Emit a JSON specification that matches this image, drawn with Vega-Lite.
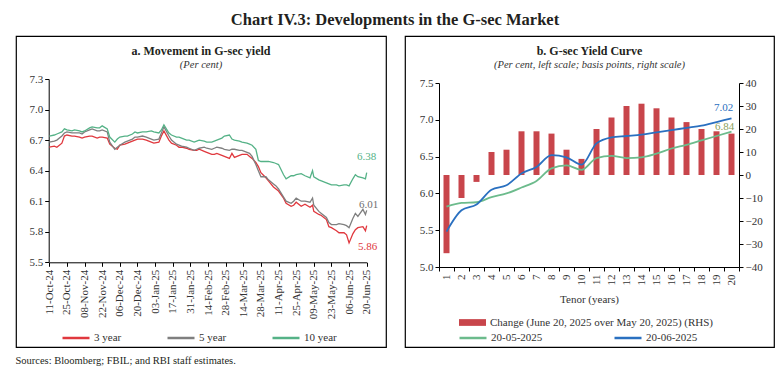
{
  "$schema": "https://vega.github.io/schema/vega-lite/v6.json",
  "background": "white",
  "padding": {"left": 15, "top": 11, "right": 5, "bottom": 2},
  "title": {"text": "Chart IV.3: Developments in the G-sec Market", "font": "Liberation Serif", "fontSize": 16.5, "fontWeight": "bold", "color": "#231f20", "anchor": "middle", "offset": 7},
  "vconcat": [
    {
      "title": {"text": "Sources: Bloomberg; FBIL; and RBI staff estimates.", "orient": "bottom", "anchor": "start", "font": "Liberation Serif", "fontSize": 10.5, "fontWeight": "normal", "color": "#231f20", "offset": 8},
      "spacing": 11,
      "hconcat": [
        {
          "width": 370,
          "height": 311,
          "title": {"text": "a. Movement in G-sec yield", "subtitle": "(Per cent)", "font": "Liberation Serif", "fontSize": 12, "fontWeight": "bold", "color": "#231f20", "subtitleFont": "Liberation Serif", "subtitleFontStyle": "italic", "subtitleFontSize": 10.5, "subtitleColor": "#333333", "subtitlePadding": 2, "anchor": "middle", "offset": -35},
          "data": {
            "values": [
              {"date": "2024-10-11", "3 year": 6.63, "5 year": 6.68, "10 year": 6.74},
              {"date": "2024-10-15", "3 year": 6.64, "5 year": 6.69, "10 year": 6.75},
              {"date": "2024-10-17", "3 year": 6.63, "5 year": 6.70, "10 year": 6.76},
              {"date": "2024-10-21", "3 year": 6.67, "5 year": 6.74, "10 year": 6.78},
              {"date": "2024-10-23", "3 year": 6.74, "5 year": 6.77, "10 year": 6.81},
              {"date": "2024-10-25", "3 year": 6.75, "5 year": 6.78, "10 year": 6.80},
              {"date": "2024-10-29", "3 year": 6.74, "5 year": 6.77, "10 year": 6.79},
              {"date": "2024-10-31", "3 year": 6.74, "5 year": 6.77, "10 year": 6.80},
              {"date": "2024-11-04", "3 year": 6.73, "5 year": 6.77, "10 year": 6.79},
              {"date": "2024-11-06", "3 year": 6.72, "5 year": 6.76, "10 year": 6.78},
              {"date": "2024-11-08", "3 year": 6.73, "5 year": 6.78, "10 year": 6.79},
              {"date": "2024-11-12", "3 year": 6.74, "5 year": 6.80, "10 year": 6.82},
              {"date": "2024-11-14", "3 year": 6.74, "5 year": 6.81, "10 year": 6.83},
              {"date": "2024-11-18", "3 year": 6.72, "5 year": 6.79, "10 year": 6.82},
              {"date": "2024-11-20", "3 year": 6.73, "5 year": 6.79, "10 year": 6.82},
              {"date": "2024-11-22", "3 year": 6.73, "5 year": 6.80, "10 year": 6.84},
              {"date": "2024-11-26", "3 year": 6.72, "5 year": 6.78, "10 year": 6.81},
              {"date": "2024-11-28", "3 year": 6.66, "5 year": 6.68, "10 year": 6.73},
              {"date": "2024-12-02", "3 year": 6.62, "5 year": 6.61, "10 year": 6.68},
              {"date": "2024-12-04", "3 year": 6.61, "5 year": 6.63, "10 year": 6.71},
              {"date": "2024-12-06", "3 year": 6.65, "5 year": 6.65, "10 year": 6.73},
              {"date": "2024-12-10", "3 year": 6.66, "5 year": 6.68, "10 year": 6.74},
              {"date": "2024-12-12", "3 year": 6.67, "5 year": 6.69, "10 year": 6.74},
              {"date": "2024-12-16", "3 year": 6.69, "5 year": 6.71, "10 year": 6.76},
              {"date": "2024-12-18", "3 year": 6.70, "5 year": 6.73, "10 year": 6.78},
              {"date": "2024-12-20", "3 year": 6.71, "5 year": 6.73, "10 year": 6.77},
              {"date": "2024-12-24", "3 year": 6.71, "5 year": 6.74, "10 year": 6.78},
              {"date": "2024-12-27", "3 year": 6.70, "5 year": 6.73, "10 year": 6.78},
              {"date": "2024-12-31", "3 year": 6.68, "5 year": 6.71, "10 year": 6.79},
              {"date": "2025-01-02", "3 year": 6.67, "5 year": 6.70, "10 year": 6.78},
              {"date": "2025-01-06", "3 year": 6.68, "5 year": 6.71, "10 year": 6.77},
              {"date": "2025-01-08", "3 year": 6.74, "5 year": 6.77, "10 year": 6.80},
              {"date": "2025-01-10", "3 year": 6.79, "5 year": 6.83, "10 year": 6.85},
              {"date": "2025-01-14", "3 year": 6.70, "5 year": 6.74, "10 year": 6.77},
              {"date": "2025-01-16", "3 year": 6.67, "5 year": 6.70, "10 year": 6.75},
              {"date": "2025-01-20", "3 year": 6.65, "5 year": 6.66, "10 year": 6.73},
              {"date": "2025-01-22", "3 year": 6.63, "5 year": 6.65, "10 year": 6.73},
              {"date": "2025-01-24", "3 year": 6.63, "5 year": 6.64, "10 year": 6.72},
              {"date": "2025-01-28", "3 year": 6.62, "5 year": 6.63, "10 year": 6.70},
              {"date": "2025-01-30", "3 year": 6.61, "5 year": 6.62, "10 year": 6.70},
              {"date": "2025-02-03", "3 year": 6.60, "5 year": 6.60, "10 year": 6.68},
              {"date": "2025-02-05", "3 year": 6.60, "5 year": 6.61, "10 year": 6.69},
              {"date": "2025-02-07", "3 year": 6.61, "5 year": 6.62, "10 year": 6.70},
              {"date": "2025-02-11", "3 year": 6.59, "5 year": 6.63, "10 year": 6.69},
              {"date": "2025-02-13", "3 year": 6.58, "5 year": 6.62, "10 year": 6.68},
              {"date": "2025-02-17", "3 year": 6.56, "5 year": 6.61, "10 year": 6.68},
              {"date": "2025-02-19", "3 year": 6.56, "5 year": 6.62, "10 year": 6.69},
              {"date": "2025-02-21", "3 year": 6.57, "5 year": 6.63, "10 year": 6.70},
              {"date": "2025-02-25", "3 year": 6.55, "5 year": 6.62, "10 year": 6.72},
              {"date": "2025-02-27", "3 year": 6.54, "5 year": 6.61, "10 year": 6.74},
              {"date": "2025-03-03", "3 year": 6.52, "5 year": 6.60, "10 year": 6.75},
              {"date": "2025-03-05", "3 year": 6.57, "5 year": 6.61, "10 year": 6.71},
              {"date": "2025-03-07", "3 year": 6.53, "5 year": 6.61, "10 year": 6.70},
              {"date": "2025-03-11", "3 year": 6.55, "5 year": 6.60, "10 year": 6.69},
              {"date": "2025-03-13", "3 year": 6.56, "5 year": 6.60, "10 year": 6.68},
              {"date": "2025-03-17", "3 year": 6.56, "5 year": 6.58, "10 year": 6.67},
              {"date": "2025-03-19", "3 year": 6.54, "5 year": 6.57, "10 year": 6.66},
              {"date": "2025-03-21", "3 year": 6.52, "5 year": 6.54, "10 year": 6.65},
              {"date": "2025-03-24", "3 year": 6.48, "5 year": 6.46, "10 year": 6.61},
              {"date": "2025-03-26", "3 year": 6.44, "5 year": 6.40, "10 year": 6.50},
              {"date": "2025-03-28", "3 year": 6.38, "5 year": 6.34, "10 year": 6.49},
              {"date": "2025-04-01", "3 year": 6.33, "5 year": 6.34, "10 year": 6.49},
              {"date": "2025-04-03", "3 year": 6.30, "5 year": 6.31, "10 year": 6.49},
              {"date": "2025-04-07", "3 year": 6.24, "5 year": 6.27, "10 year": 6.48},
              {"date": "2025-04-09", "3 year": 6.22, "5 year": 6.25, "10 year": 6.47},
              {"date": "2025-04-11", "3 year": 6.20, "5 year": 6.22, "10 year": 6.46},
              {"date": "2025-04-15", "3 year": 6.13, "5 year": 6.14, "10 year": 6.36},
              {"date": "2025-04-17", "3 year": 6.08, "5 year": 6.10, "10 year": 6.32},
              {"date": "2025-04-21", "3 year": 6.05, "5 year": 6.08, "10 year": 6.35},
              {"date": "2025-04-23", "3 year": 6.06, "5 year": 6.10, "10 year": 6.35},
              {"date": "2025-04-25", "3 year": 6.09, "5 year": 6.13, "10 year": 6.36},
              {"date": "2025-04-29", "3 year": 6.05, "5 year": 6.10, "10 year": 6.37},
              {"date": "2025-05-02", "3 year": 6.07, "5 year": 6.10, "10 year": 6.35},
              {"date": "2025-05-06", "3 year": 6.04, "5 year": 6.09, "10 year": 6.33},
              {"date": "2025-05-08", "3 year": 6.06, "5 year": 6.13, "10 year": 6.40},
              {"date": "2025-05-09", "3 year": 6.00, "5 year": 6.06, "10 year": 6.34},
              {"date": "2025-05-13", "3 year": 5.97, "5 year": 6.00, "10 year": 6.31},
              {"date": "2025-05-15", "3 year": 5.96, "5 year": 5.98, "10 year": 6.30},
              {"date": "2025-05-19", "3 year": 5.92, "5 year": 5.94, "10 year": 6.28},
              {"date": "2025-05-21", "3 year": 5.85, "5 year": 5.89, "10 year": 6.27},
              {"date": "2025-05-23", "3 year": 5.84, "5 year": 5.87, "10 year": 6.26},
              {"date": "2025-05-27", "3 year": 5.81, "5 year": 5.87, "10 year": 6.26},
              {"date": "2025-05-29", "3 year": 5.79, "5 year": 5.88, "10 year": 6.25},
              {"date": "2025-06-02", "3 year": 5.79, "5 year": 5.87, "10 year": 6.26},
              {"date": "2025-06-04", "3 year": 5.77, "5 year": 5.86, "10 year": 6.26},
              {"date": "2025-06-06", "3 year": 5.69, "5 year": 5.84, "10 year": 6.25},
              {"date": "2025-06-09", "3 year": 5.78, "5 year": 5.93, "10 year": 6.32},
              {"date": "2025-06-11", "3 year": 5.82, "5 year": 5.98, "10 year": 6.36},
              {"date": "2025-06-13", "3 year": 5.84, "5 year": 5.95, "10 year": 6.34},
              {"date": "2025-06-17", "3 year": 5.85, "5 year": 6.02, "10 year": 6.33},
              {"date": "2025-06-19", "3 year": 5.81, "5 year": 5.97, "10 year": 6.32},
              {"date": "2025-06-20", "3 year": 5.86, "5 year": 6.01, "10 year": 6.38}
            ],
            "format": {"parse": {"date": "utc:'%Y-%m-%d'"}}
          },
          "transform": [{"fold": ["3 year", "5 year", "10 year"], "as": ["series", "yield"]}],
          "encoding": {
            "x": {
              "field": "date", "type": "temporal",
              "scale": {"type": "utc", "domain": [{"year": 2024, "month": 10, "date": 11, "utc": true}, {"year": 2025, "month": 6, "date": 20, "utc": true}], "range": [33.3, 350.7]},
              "axis": {
                "orient": "bottom", "offset": -84.7, "title": null, "format": "%d-%b-%y", "labelAngle": -90, "labelPadding": 3,
                "values": [
                  {"year": 2024, "month": 10, "date": 11, "utc": true},
                  {"year": 2024, "month": 10, "date": 25, "utc": true},
                  {"year": 2024, "month": 11, "date": 8, "utc": true},
                  {"year": 2024, "month": 11, "date": 22, "utc": true},
                  {"year": 2024, "month": 12, "date": 6, "utc": true},
                  {"year": 2024, "month": 12, "date": 20, "utc": true},
                  {"year": 2025, "month": 1, "date": 3, "utc": true},
                  {"year": 2025, "month": 1, "date": 17, "utc": true},
                  {"year": 2025, "month": 1, "date": 31, "utc": true},
                  {"year": 2025, "month": 2, "date": 14, "utc": true},
                  {"year": 2025, "month": 2, "date": 28, "utc": true},
                  {"year": 2025, "month": 3, "date": 14, "utc": true},
                  {"year": 2025, "month": 3, "date": 28, "utc": true},
                  {"year": 2025, "month": 4, "date": 11, "utc": true},
                  {"year": 2025, "month": 4, "date": 25, "utc": true},
                  {"year": 2025, "month": 5, "date": 9, "utc": true},
                  {"year": 2025, "month": 5, "date": 23, "utc": true},
                  {"year": 2025, "month": 6, "date": 6, "utc": true},
                  {"year": 2025, "month": 6, "date": 20, "utc": true}
                ]
              }
            },
            "y": {
              "field": "yield", "type": "quantitative",
              "scale": {"domain": [5.5, 7.3], "range": [226.3, 43], "zero": false},
              "axis": {"orient": "left", "offset": -32.7, "title": null, "format": ".1f", "values": [5.5, 5.8, 6.1, 6.4, 6.7, 7.0, 7.3]}
            }
          },
          "layer": [
            {
              "mark": {"type": "line", "strokeWidth": 1.3},
              "encoding": {
                "color": {
                  "field": "series", "type": "nominal",
                  "scale": {"domain": ["3 year", "5 year", "10 year"], "range": ["#e0383e", "#7f7f7f", "#55b287"]},
                  "legend": {"title": null, "orient": "none", "legendX": 45, "legendY": 287, "direction": "horizontal", "symbolType": "stroke", "symbolSize": 729, "symbolStrokeWidth": 2.5, "gridAlign": "all", "columnPadding": 35, "labelOffset": 3}
                }
              }
            },
            {
              "transform": [{"filter": "datum.series == '10 year' && time(datum.date) == utc(2025, 5, 20)"}],
              "mark": {"type": "text", "color": "#55b287", "fontSize": 11, "baseline": "middle", "align": "center", "dy": -16},
              "encoding": {"text": {"field": "yield", "type": "quantitative", "format": ".2f"}}
            },
            {
              "transform": [{"filter": "datum.series == '5 year' && time(datum.date) == utc(2025, 5, 20)"}],
              "mark": {"type": "text", "color": "#6f6f6f", "fontSize": 11, "baseline": "middle", "align": "center", "dy": -5, "dx": 2},
              "encoding": {"text": {"field": "yield", "type": "quantitative", "format": ".2f"}}
            },
            {
              "transform": [{"filter": "datum.series == '3 year' && time(datum.date) == utc(2025, 5, 20)"}],
              "mark": {"type": "text", "color": "#e0383e", "fontSize": 11, "baseline": "middle", "align": "center", "dy": 21, "dx": 1},
              "encoding": {"text": {"field": "yield", "type": "quantitative", "format": ".2f"}}
            }
          ]
        },
        {
          "width": 369,
          "height": 311,
          "title": {"text": "b. G-sec Yield Curve", "subtitle": "(Per cent, left scale; basis points, right scale)", "font": "Liberation Serif", "fontSize": 12, "fontWeight": "bold", "color": "#231f20", "subtitleFont": "Liberation Serif", "subtitleFontStyle": "italic", "subtitleFontSize": 10.5, "subtitleColor": "#333333", "subtitlePadding": 2, "anchor": "middle", "offset": -35},
          "data": {
            "values": [
              {"tenor": 1, "20-05-2025": 5.82, "20-06-2025": 5.48, "change": -34},
              {"tenor": 2, "20-05-2025": 5.87, "20-06-2025": 5.77, "change": -10},
              {"tenor": 3, "20-05-2025": 5.88, "20-06-2025": 5.85, "change": -3},
              {"tenor": 4, "20-05-2025": 5.95, "20-06-2025": 6.05, "change": 10},
              {"tenor": 5, "20-05-2025": 6.00, "20-06-2025": 6.11, "change": 11},
              {"tenor": 6, "20-05-2025": 6.08, "20-06-2025": 6.27, "change": 19},
              {"tenor": 7, "20-05-2025": 6.17, "20-06-2025": 6.36, "change": 19},
              {"tenor": 8, "20-05-2025": 6.34, "20-06-2025": 6.52, "change": 18},
              {"tenor": 9, "20-05-2025": 6.38, "20-06-2025": 6.49, "change": 11},
              {"tenor": 10, "20-05-2025": 6.32, "20-06-2025": 6.39, "change": 7},
              {"tenor": 11, "20-05-2025": 6.48, "20-06-2025": 6.68, "change": 20},
              {"tenor": 12, "20-05-2025": 6.51, "20-06-2025": 6.76, "change": 25},
              {"tenor": 13, "20-05-2025": 6.48, "20-06-2025": 6.78, "change": 30},
              {"tenor": 14, "20-05-2025": 6.49, "20-06-2025": 6.80, "change": 31},
              {"tenor": 15, "20-05-2025": 6.54, "20-06-2025": 6.83, "change": 29},
              {"tenor": 16, "20-05-2025": 6.61, "20-06-2025": 6.86, "change": 25},
              {"tenor": 17, "20-05-2025": 6.66, "20-06-2025": 6.89, "change": 23},
              {"tenor": 18, "20-05-2025": 6.72, "20-06-2025": 6.92, "change": 20},
              {"tenor": 19, "20-05-2025": 6.78, "20-06-2025": 6.97, "change": 19},
              {"tenor": 20, "20-05-2025": 6.84, "20-06-2025": 7.02, "change": 18}
            ]
          },
          "encoding": {
            "x": {
              "field": "tenor", "type": "ordinal",
              "scale": {"type": "band", "range": [34, 334], "paddingInner": 0, "paddingOuter": 0},
              "axis": {"orient": "bottom", "offset": -80, "title": "Tenor (years)", "titlePadding": 8, "labelAngle": -90, "labelPadding": 3, "tickBand": "extent"}
            }
          },
          "layer": [
            {
              "mark": {"type": "bar", "width": {"band": 0.4}},
              "encoding": {
                "y": {
                  "field": "change", "type": "quantitative",
                  "scale": {"domain": [-40, 40], "range": [231, 47]},
                  "axis": {"orient": "right", "offset": -35, "title": null, "values": [-40, -30, -20, -10, 0, 10, 20, 30, 40]}
                },
                "fill": {
                  "datum": "Change (June 20, 2025 over May 20, 2025) (RHS)",
                  "scale": {"range": ["#c8454b"]},
                  "legend": {"title": null, "orient": "none", "legendX": 442, "legendY": 272, "symbolType": "M-1,-0.25L1,-0.25L1,0.25L-1,0.25Z", "symbolSize": 729, "labelOffset": 3, "labelLimit": 400}
                }
              }
            },
            {
              "transform": [{"fold": ["20-05-2025", "20-06-2025"], "as": ["series", "yield"]}],
              "encoding": {
                "y": {
                  "field": "yield", "type": "quantitative",
                  "scale": {"domain": [5.0, 7.5], "range": [231, 47], "zero": false},
                  "axis": {"orient": "left", "offset": -34, "title": null, "format": ".1f", "values": [5.0, 5.5, 6.0, 6.5, 7.0, 7.5]}
                }
              },
              "layer": [
                {
                  "mark": {"type": "line", "interpolate": "monotone", "strokeWidth": 1.8},
                  "encoding": {
                    "stroke": {
                      "field": "series", "type": "nominal",
                      "scale": {"domain": ["20-05-2025", "20-06-2025"], "range": ["#6cbb8c", "#2a70c0"]},
                      "legend": {"title": null, "orient": "none", "legendX": 442, "legendY": 287, "direction": "horizontal", "symbolType": "stroke", "symbolSize": 729, "symbolStrokeWidth": 2.5, "gridAlign": "all", "columnPadding": 66, "labelOffset": 3}
                    }
                  }
                },
                {
                  "transform": [{"filter": "datum.tenor == 20 && datum.series == '20-06-2025'"}],
                  "mark": {"type": "text", "color": "#2a70c0", "fontSize": 11, "baseline": "middle", "align": "center", "dx": -8, "dy": -10},
                  "encoding": {"text": {"field": "yield", "type": "quantitative", "format": ".2f"}}
                },
                {
                  "transform": [{"filter": "datum.tenor == 20 && datum.series == '20-05-2025'"}],
                  "mark": {"type": "text", "color": "#8a9f5c", "fontSize": 11, "baseline": "middle", "align": "center", "dx": -7, "dy": -5},
                  "encoding": {"text": {"field": "yield", "type": "quantitative", "format": ".2f"}}
                }
              ]
            }
          ],
          "resolve": {"scale": {"y": "independent"}}
        }
      ]
    }
  ],
  "config": {
    "font": "Liberation Serif",
    "view": {"stroke": "#000000", "strokeWidth": 1.2},
    "axis": {"labelFont": "Liberation Serif", "labelFontSize": 11, "labelColor": "#333333", "domainColor": "#000000", "tickColor": "#000000", "grid": false, "tickSize": 4, "titleFont": "Liberation Serif", "titleFontWeight": "normal", "titleFontSize": 11, "titleColor": "#333333"},
    "legend": {"labelFont": "Liberation Serif", "labelFontSize": 11, "labelColor": "#333333", "padding": 0},
    "text": {"font": "Liberation Serif"}
  }
}
